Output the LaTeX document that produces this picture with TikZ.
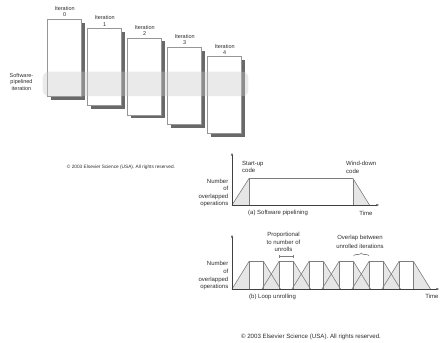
\documentclass[tikz,border=0pt]{standalone}
\usepackage{fontspec}
\setmainfont{Liberation Sans}
\usepackage{tikz}
\usetikzlibrary{arrows.meta,positioning,shadows,decorations.pathreplacing}
\definecolor{edgegray}{RGB}{150,150,150}
\definecolor{shadowgray}{RGB}{105,105,105}
\definecolor{bandgray}{RGB}{200,200,200}
\definecolor{areagray}{RGB}{230,230,230}
\definecolor{linegray}{RGB}{125,125,125}
\definecolor{inkgray}{RGB}{45,45,45}

\begin{document}
\begin{tikzpicture}[x=1pt,y=-1pt,node distance=1.5pt,
      itbox/.style={draw=edgegray,fill=white,line width=0.6pt,minimum width=34pt,
        minimum height=77pt,inner sep=0pt,
        drop shadow={shadow xshift=3.3pt,shadow yshift=-3.3pt,fill=shadowgray,opacity=1}},
      itlbl/.style={font=\fontsize{5.5}{6.2}\selectfont,align=center,inner sep=0pt,text=inkgray},
      numlbl/.style={font=\fontsize{6}{7.6}\selectfont,align=right,inner sep=0pt,anchor=east,text=inkgray},
      txt/.style={font=\fontsize{6}{7.8}\selectfont,align=left,inner sep=0pt,text=inkgray},
      trap/.style={linegray,line width=0.6pt},
      axis/.style={-{Stealth[length=3pt,width=2.2pt]},black!75,line width=0.6pt}]
    \useasboundingbox (0,0) rectangle (440,343);
    \foreach \i in {0,...,4}{
      \node[itbox] (it\i) at ({64.7+40*\i},{57.8+9.35*\i}) {};
      \node[itlbl,above=2pt of it\i] (il\i) {Iteration\\\i};
    }
    \fill[bandgray,fill opacity=0.38,rounded corners=6pt] (42.7,71.7) rectangle (248.3,96.2);
    \node[itlbl] (swp) at (21.5,82) {Software-\\pipelined\\iteration};
    \node[font=\fontsize{4.75}{5}\selectfont,inner sep=0pt,text=inkgray] (cr1) at (121,167) {\textcopyright\ 2003 Elsevier Science (USA). All rights reserved.};

    \coordinate (oa) at (232,205);
    \coordinate (ya) at (232,153);
    \coordinate (xa) at (379,205);
    \fill[areagray] (oa) -- (249,178.5) -- (249,205) -- cycle;
    \fill[areagray] (353,178.5) -- (369.5,205) -- (353,205) -- cycle;
    \draw[trap] (oa) -- (249,178.5) -- (353,178.5) -- (369.5,205);
    \draw[trap] (249,178.5) -- (249,205) (353,178.5) -- (353,205);
    \draw[axis] (oa) -- (ya);
    \draw[axis] (oa) -- (xa);
    \node[txt,anchor=west] (su) at (242,167) {Start-up\\code};
    \node[txt,anchor=west] (wd) at (346,167) {Wind-down\\code};
    \node[numlbl] (na) at (228.5,193) {Number\\of\\overlapped\\operations};
    \node[txt,anchor=west] (capa) at (248,213) {(a) Software pipelining};
    \node[txt] (ta) at (366,213) {Time};

    \coordinate (ob) at (232,289);
    \coordinate (yb) at (232,235);
    \coordinate (xb) at (439,289);
    \foreach \k in {0,...,5}{
      \fill[areagray] ({232+30*\k},289) -- ({249+30*\k},261.5) -- ({249+30*\k},289) -- cycle;
      \fill[areagray] ({263.5+30*\k},261.5) -- ({280.5+30*\k},289) -- ({263.5+30*\k},289) -- cycle;
    }
    \foreach \k in {0,...,5}{
      \draw[trap] ({232+30*\k},289) -- ({249+30*\k},261.5) -- ({263.5+30*\k},261.5) -- ({280.5+30*\k},289);
      \draw[trap] ({249+30*\k},261.5) -- ({249+30*\k},289) ({263.5+30*\k},261.5) -- ({263.5+30*\k},289);
    }
    \draw[axis] (ob) -- (yb);
    \draw[axis] (ob) -- (xb);
    \coordinate (pl) at (279,256.5);
    \coordinate (pr) at (293.5,256.5);
    \draw[trap,{Bar[width=3pt]}-{Bar[width=3pt]}] (pl) -- (pr);
    \node[itlbl,font=\fontsize{6}{7.8}\selectfont] (prop) at (283.5,242) {Proportional\\to number of\\unrolls};
    \coordinate (bl) at (353.5,256);
    \coordinate (br) at (369,256);
    \draw[trap,decorate,decoration={brace,amplitude=3pt}] (bl) -- (br);
    \node[itlbl,font=\fontsize{6}{8.3}\selectfont] (ovl) at (360,242) {Overlap between\\unrolled iterations};
    \node[numlbl] (nb) at (228.5,275.7) {Number\\of\\overlapped\\operations};
    \node[txt,anchor=west] (capb) at (249,297) {(b) Loop unrolling};
    \node[txt] (tb) at (432,296) {Time};
    \node[font=\fontsize{6.15}{7}\selectfont,inner sep=0pt,text=inkgray] (cr2) at (311,337) {\textcopyright\ 2003 Elsevier Science (USA). All rights reserved.};
  \end{tikzpicture}
\end{document}
